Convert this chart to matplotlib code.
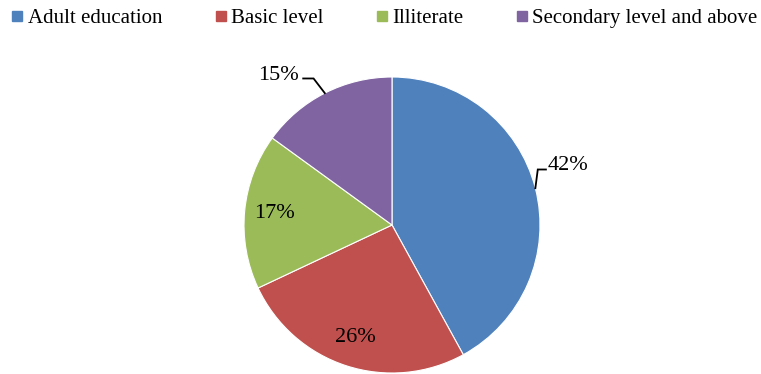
import numpy as np
import matplotlib
matplotlib.use('Agg')
import matplotlib.pyplot as plt
from matplotlib.lines import Line2D

plt.rcParams['font.family'] = ['Liberation Serif', 'DejaVu Serif']

# data
categories = ['Adult education', 'Basic level', 'Illiterate', 'Secondary level and above']
shares = [42, 26, 17, 15]
colors = ['#4F81BD', '#C0504D', '#9BBB59', '#8064A2']

W, H = 761, 374
fig = plt.figure(figsize=(W / 100, H / 100), dpi=100)

# pie centre (392, 225) px from top, radius 148 px
cx, cy, r = 392, 225, 148
ax = fig.add_axes([(cx - r) / W, (H - cy - r) / H, 2 * r / W, 2 * r / H])
wedges, _ = ax.pie(shares, colors=colors, startangle=90, counterclock=False,
                   radius=1, wedgeprops=dict(linewidth=0.8, edgecolor='white'))
ax.set_xlim(-1, 1)
ax.set_ylim(-1, 1)
ax.set_aspect('equal')
ax.axis('off')

fs = 16
for i, w in enumerate(wedges):
    mid = np.deg2rad((w.theta1 + w.theta2) / 2)
    ex, ey = np.cos(mid), np.sin(mid)
    lab = '{}%'.format(shares[i])
    if i == 0:
        # leader up then right
        ax.plot([ex, 0.985, 1.04], [ey, 0.375, 0.375], color='black', lw=1.3,
                clip_on=False, solid_joinstyle='miter')
        ax.text(1.05, 0.40, lab, fontsize=fs, ha='left', va='center', clip_on=False)
    elif i == 3:
        ax.plot([ex, -0.53, -0.60], [ey, 0.99, 0.99], color='black', lw=1.3,
                clip_on=False, solid_joinstyle='miter')
        ax.text(-0.63, 1.01, lab, fontsize=fs, ha='right', va='center', clip_on=False)
    else:
        ax.text(0.8 * ex, 0.8 * ey, lab, fontsize=fs, ha='center', va='center')

handles = [Line2D([], [], marker='s', ls='none', color=c, markersize=7.5) for c in colors]
fig.legend(handles, categories, loc='upper left', bbox_to_anchor=(0.001, 1.0),
           ncol=4, frameon=False, fontsize=15, handlelength=0.8, handletextpad=0.1,
           columnspacing=2.4, borderaxespad=0.0)

fig.savefig('out.png', dpi=100)
